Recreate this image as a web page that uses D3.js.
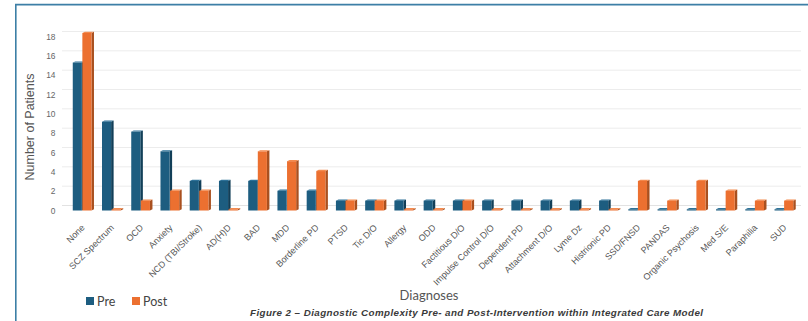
<!DOCTYPE html>
<html>
<head>
<meta charset="utf-8">
<script src="https://cdn.jsdelivr.net/npm/d3@7"></script>
<style>
  html, body { margin: 0; padding: 0; background: #fff; }
  svg { display: block; }
</style>
</head>
<body>
<svg id="chart" width="808" height="321"></svg>
<script>
// Diagnoses and patient counts before / after the intervention
const categories = [
  "None", "SCZ Spectrum", "OCD", "Anxiety", "NCD (TBI/Stroke)", "AD(H)D", "BAD", "MDD",
  "Borderline PD", "PTSD", "Tic D/O", "Allergy", "ODD", "Factitious D/O",
  "Impulse Control D/O", "Dependent PD", "Attachment D/O", "Lyme Dz", "Histrionic PD",
  "SSD/FNSD", "PANDAS", "Organic Psychosis", "Med S/E", "Paraphilia", "SUD"
];
const preValues  = [15, 9, 8, 6, 3, 3, 3, 2, 2, 1, 1, 1, 1, 1, 1, 1, 1, 1, 1, 0, 0, 0, 0, 0, 0];
const postValues = [18, 0, 1, 2, 2, 0, 6, 5, 4, 1, 1, 0, 0, 1, 0, 0, 0, 0, 0, 3, 1, 3, 2, 1, 1];
const seriesNames = ["Pre", "Post"];
const yTicks = [0, 2, 4, 6, 8, 10, 12, 14, 16, 18];
const captionText = "Figure 2 \u2013 Diagnostic Complexity Pre- and Post-Intervention within Integrated Care Model";

const colors = {
  Pre:  { front: "#1d5d80", side: "#123f58", top: "#2f7399" },
  Post: { front: "#ec7030", side: "#a9501f", top: "#f38b4f" }
};

const svg = d3.select("#chart");
const depth = 2.5;        // 3D side-face depth
const wallShift = 5;      // back wall offset for gridlines

const x = d3.scaleBand().domain(categories).range([67.5, 798.5]).paddingInner(0.36).paddingOuter(0.18);
const xs = d3.scaleBand().domain(seriesNames).range([0, x.bandwidth()]).paddingInner(0.05);
// label scale (axis) and bar scale (front plane of the 3D plot)
const y = d3.scaleLinear().domain([0, 18]).range([210.5, 36.5]);
const yBar = d3.scaleLinear().domain([0, 18]).range([210.5, 33]);

// outer frame
svg.append("path")
  .attr("d", "M15.8,321 L15.8,4.6 L808,4.6")
  .attr("fill", "none").attr("stroke", "#3d7fa6").attr("stroke-width", 1.6);

// gridlines on the back wall
svg.append("g").selectAll("line").data(yTicks).join("line")
  .attr("x1", 62).attr("x2", 801)
  .attr("y1", d => y(d) - wallShift).attr("y2", d => y(d) - wallShift)
  .attr("stroke", d => d === 0 ? "#e2e2e2" : "#ececec").attr("stroke-width", 1);

// y axis labels
const yAxis = d3.axisLeft(y).tickValues(yTicks).tickSize(0).tickPadding(0);
const gy = svg.append("g").attr("transform", "translate(55.5,0)").call(yAxis);
gy.select(".domain").remove();
gy.selectAll("text").attr("font-family", "Liberation Sans, Arial, sans-serif")
  .attr("font-size", 8.4).attr("fill", "#666");

// bars
const rows = [];
categories.forEach((c, i) => {
  rows.push({ cat: c, s: "Pre", v: preValues[i] });
  rows.push({ cat: c, s: "Post", v: postValues[i] });
});

const bars = svg.append("g").selectAll("g").data(rows).join("g");
bars.each(function (d) {
  const g = d3.select(this);
  const x0 = x(d.cat) + xs(d.s);
  const w = xs.bandwidth();
  const base = yBar(0);
  const top = d.v === 0 ? base - 1.2 : yBar(d.v);
  const c = colors[d.s];
  // side face
  g.append("path")
    .attr("d", `M${x0 + w},${top} L${x0 + w + depth},${top - 1.2} L${x0 + w + depth},${base - 1.2} L${x0 + w},${base} Z`)
    .attr("fill", c.side);
  // top face
  g.append("path")
    .attr("d", `M${x0},${top} L${x0 + depth},${top - 1.2} L${x0 + w + depth},${top - 1.2} L${x0 + w},${top} Z`)
    .attr("fill", c.top);
  // front face
  g.append("rect")
    .attr("x", x0).attr("y", top).attr("width", w).attr("height", base - top)
    .attr("fill", c.front);
});

// category labels
const xAxis = d3.axisBottom(x).tickSize(0).tickPadding(0);
const gx = svg.append("g").attr("transform", "translate(0,214)").call(xAxis);
gx.select(".domain").remove();
gx.selectAll("text")
  .attr("font-family", "Liberation Sans, Arial, sans-serif")
  .attr("font-size", 9).attr("fill", "#555")
  .attr("text-anchor", "end")
  .attr("transform", "translate(1,12) rotate(-45)")
  .attr("dy", "0.35em").attr("y", 0).attr("x", 0);

// axis titles
svg.append("text")
  .attr("transform", "translate(34,127) rotate(-90)")
  .attr("text-anchor", "middle")
  .attr("font-family", "Liberation Sans, Arial, sans-serif")
  .attr("font-size", 12.5).attr("fill", "#555")
  .text("Number of Patients");

svg.append("text")
  .attr("x", 429).attr("y", 300)
  .attr("text-anchor", "middle")
  .attr("font-family", "Lato, Open Sans, sans-serif")
  .attr("font-size", 13).attr("fill", "#555")
  .text("Diagnoses");

// legend
const legend = svg.append("g").attr("transform", "translate(86,297)");
const legendX = d3.scalePoint().domain(seriesNames).range([0, 46]);
const li = legend.selectAll("g").data(seriesNames).join("g")
  .attr("transform", d => `translate(${legendX(d)},0)`);
li.append("rect").attr("width", 8).attr("height", 8).attr("fill", d => colors[d].front);
li.append("text").attr("x", 11).attr("y", 8.5)
  .attr("font-family", "Lato, Open Sans, sans-serif")
  .attr("font-size", 12.5).attr("fill", "#444")
  .text(d => d);

// caption
svg.append("text")
  .attr("x", 250).attr("y", 316)
  .attr("font-family", "Liberation Sans, Arial, sans-serif")
  .attr("font-size", 9.8).attr("font-weight", "bold").attr("font-style", "italic")
  .attr("fill", "#3a3a3a")
  .attr("textLength", 453).attr("lengthAdjust", "spacing")
  .text(captionText);
</script>
</body>
</html>
